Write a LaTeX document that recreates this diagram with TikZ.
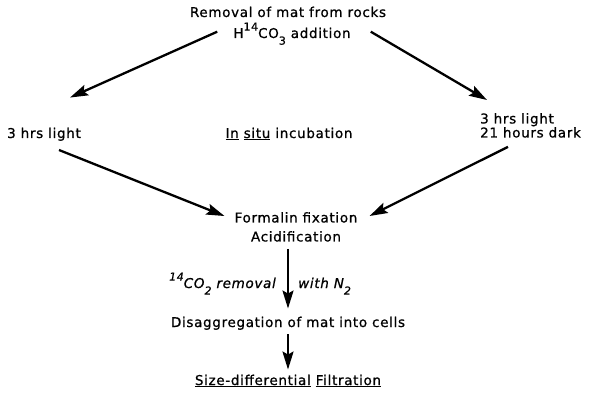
\documentclass[tikz,border=0pt]{standalone}
\usepackage{fontspec}
\setmainfont{DejaVu Sans}[LetterSpace=5,FakeBold=0.8]
\usetikzlibrary{arrows.meta,positioning,calc}
\newcommand{\isotope}[1]{\raisebox{1.0ex}{\fontsize{11}{11}\selectfont #1}}
\newcommand{\lowsub}[1]{\raisebox{-0.9ex}{\fontsize{11}{11}\selectfont #1}}

\begin{document}
\begin{tikzpicture}[x=1pt,y=-1pt,>={Stealth[length=18pt,width=11pt,inset=3pt]},
    every node/.style={inner sep=0pt,font=\fontsize{13.5}{14}\selectfont},
    flow/.style={->,line width=2.3pt}]
    \useasboundingbox (0,0) rectangle (593,398);
    \node[anchor=base] (removal) at (288,17) {Removal of mat from rocks};
    \node[anchor=base] (addn) at (292,38) {H\isotope{14}CO\lowsub{3} addition};
    \node[anchor=base west] (light) at (7,138) {3 hrs light};
    \node[anchor=base] (insitu) at (289,138) {\underline{In} \underline{situ} incubation};
    \node[anchor=north west, align=left] (dark) at (480,113) {3 hrs light\\21 hours dark};
    \node[anchor=north, align=center] (fix) at (296,212) {Formalin fixation\\[5pt]Acidification};
    \node[anchor=base east, font=\fontsize{13.5}{14}\selectfont\itshape] (co2) at (276,288) {\isotope{14}CO\lowsub{2} removal};
    \node[anchor=base west, font=\fontsize{13.5}{14}\selectfont\itshape] (nitro) at (298,288) {with N\lowsub{2}};
    \node[anchor=base] (disagg) at (288,327) {Disaggregation of mat into cells};
    \node[anchor=base] (filt) at (288,385) {\underline{Size-differential} \underline{Filtration}};

    \draw[flow] ($(addn.west)+(-16,-2)$) -- ($(light.north west)+(63,-30)$);
    \draw[flow] ($(addn.east)+(20,-2)$) -- ($(dark.north west)+(7,-13)$);
    \draw[flow] ($(light.south west)+(52,9)$) -- ($(fix.north west)+(-10,4)$);
    \draw[flow] ($(dark.south west)+(28,9)$) -- ($(fix.north east)+(12,4)$);
    \draw[flow,shorten <=7pt,shorten >=8pt] (fix.south -| disagg.north) -- (disagg.north);
    \draw[flow,shorten <=4pt,shorten >=5pt] (disagg.south) -- (filt.north);
\end{tikzpicture}
\end{document}
